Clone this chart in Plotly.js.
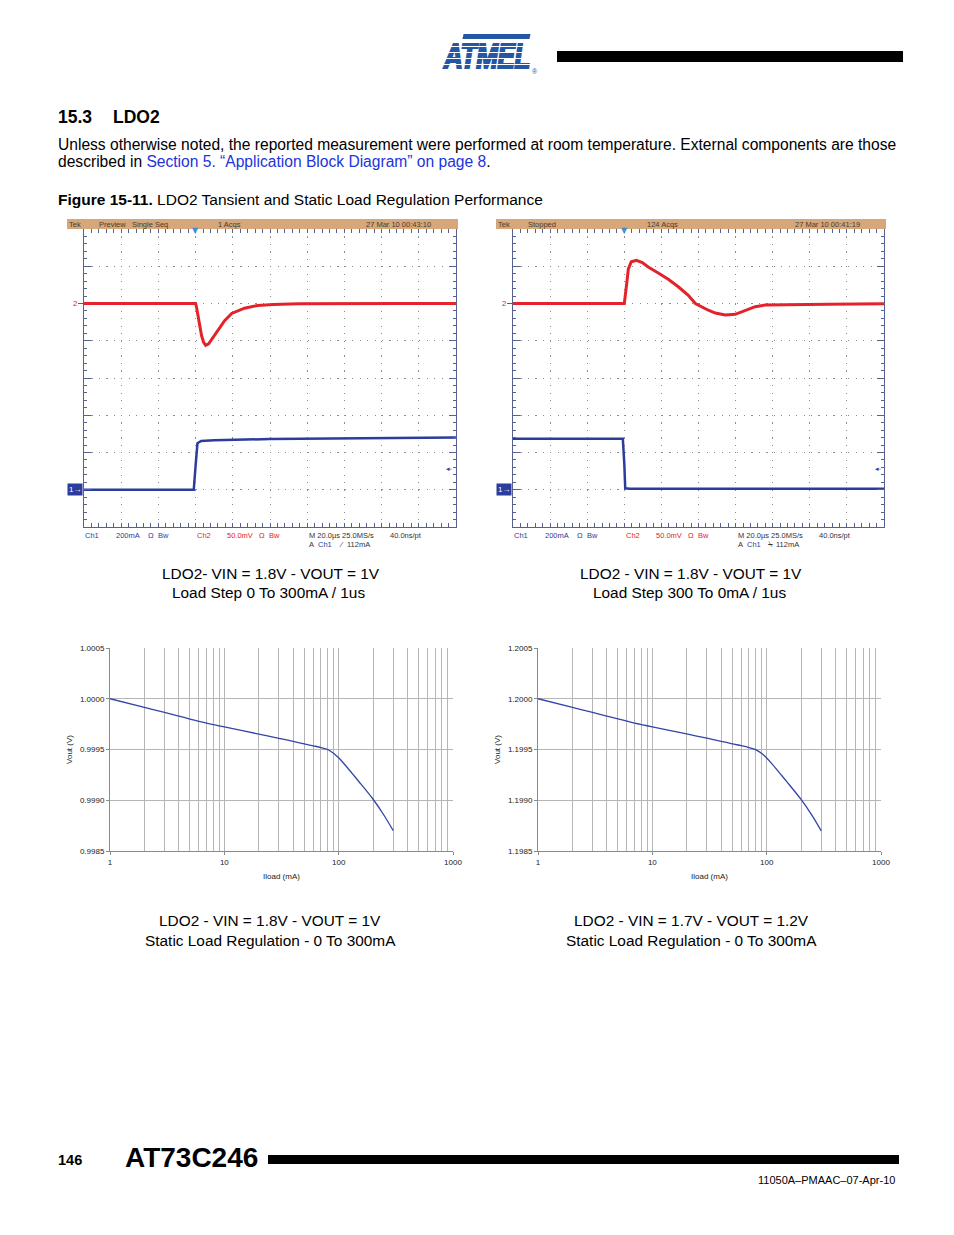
<!DOCTYPE html>
<html><head><meta charset="utf-8">
<script src="https://cdn.plot.ly/plotly-3.0.1.min.js"></script>
<style>
html,body{margin:0;padding:0;background:#fff;}
#wrap{position:relative;width:954px;height:1235px;overflow:hidden;}
#page{position:absolute;left:0;top:0;width:954px;height:1235px;}
#logo{position:absolute;left:443px;top:33px;width:100px;height:46px;}
</style>
</head><body>
<div id="wrap">
<div id="page"></div>
<div id="logo">
  <div style="position:absolute;left:20px;top:1px;width:67px;height:5px;background:#2456a6;transform:skewX(-12deg)"></div>
  <div style="position:absolute;left:1px;top:3px;font:italic bold 26px 'Liberation Sans Narrow','Liberation Sans',Arial,sans-serif;color:#2456a6;-webkit-text-stroke:1.6px #2456a6;transform:scale(1.0,1.32);transform-origin:0 0;letter-spacing:-0.3px;white-space:nowrap">ATMEL</div>
  <div style="position:absolute;left:0;top:8px;width:90px;height:34px;background:repeating-linear-gradient(to bottom,transparent 0px,transparent 5px,#fff 5px,#fff 6px)"></div>
  <div style="position:absolute;left:89px;top:35px;font:7px 'Liberation Sans',Arial,sans-serif;color:#2456a6">®</div>
</div>
</div>
<script>
// ---------------- DATA ----------------
// Scope 1: load step 0 -> 300 mA (time in µs, Ch2 in mV deviation, Ch1 in mA)
const s1Ch2Time = [-60, -30, 0, 0.5, 1.6, 3.2, 4.3, 5.4, 7.0, 9.7, 12.4, 15.6, 19.4, 23.1, 26.3, 33.3, 41.9, 55.4, 80, 110, 140];
const s1Ch2mV   = [0, 0, 0, -5, -23, -43, -52, -56, -54, -44, -34, -23, -13.4, -9.4, -6.3, -2.7, -1.3, -0.5, 0, 0, 0];
const s1Ch1Time = [-60, -30, -1, 0, 1, 3, 10, 40, 80, 140];
const s1Ch1mA   = [0, 2, 0, 130, 250, 262, 266, 272, 276, 280];
// Scope 2: load step 300 -> 0 mA
const s2Ch2Time = [-60, -30, 0, 1.08, 2.16, 3.77, 6.47, 9.70, 12.9, 18.3, 23.7, 29.1, 34.5, 38.3, 41.5, 45.3, 49.1, 54.4, 59.8, 65.2, 70.6, 76.0, 88.4, 110, 140];
const s2Ch2mV   = [0, 0, 0, 22, 46, 56, 58, 55, 49, 41, 32.5, 22.5, 11, 0, -4.3, -9, -12.8, -15.4, -14.5, -9, -4.3, -2, -1.5, -1, -0.5];
const s2Ch1Time = [-60, -20, -0.8, 0, 0.5, 3, 40, 140];
const s2Ch1mA   = [274, 276, 274, 140, 8, 6, 5, 5];
// Static load regulation (Iload mA, Vout V)
const iload = [1,2,3,4,5,6,7,8,9,10,20,30,40,50,60,70,80,90,100,110,130,150,200,250,300];
const vout1 = [1.000000,0.999914,0.999865,0.999829,0.999800,0.999778,0.999760,0.999745,0.999733,0.999722,
               0.999652,0.999610,0.999580,0.999555,0.999536,0.999519,0.999500,0.999464,0.999418,0.999367,
               0.999270,0.999185,0.999010,0.998850,0.998700];
const vout2 = [1.200000,1.199914,1.199866,1.199830,1.199802,1.199779,1.199761,1.199746,1.199734,1.199723,
               1.199653,1.199611,1.199581,1.199556,1.199537,1.199519,1.199499,1.199463,1.199417,1.199366,
               1.199268,1.199183,1.199008,1.198848,1.198698];
const vTicks1 = [0.9985, 0.9990, 0.9995, 1.0000, 1.0005];
const vTicks2 = [1.1985, 1.1990, 1.1995, 1.2000, 1.2005];

// ---------------- LAYOUT HELPERS ----------------
const W = 954, H = 1235;
const PAGE = 'Liberation Sans, Arial, Helvetica, sans-serif';
const SCOPE = 'Liberation Sans Narrow, Liberation Sans, Arial, sans-serif';
const RED = '#e3222a', BLUE = '#2c3c9c', FRAME = '#56618f';
const px = x => x / W, py = y => 1 - y / H;

function A(x, y, text, size, color, opts) {
  return Object.assign({xref:'paper', yref:'paper', x:px(x), y:py(y), text:text, showarrow:false,
    xanchor:'left', yanchor:'middle', borderpad:0, font:{family:PAGE, size:size, color:color||'#000'}}, opts||{});
}
function S(x, y, text, color, opts) { return A(x, y, text, 7.5, color||'#333', Object.assign({font:{family:SCOPE,size:7.5,color:color||'#333'}}, opts||{})); }

function scopeX(x0, x1, anchor) {
  return {domain:[px(x0), px(x1)], anchor:anchor, range:[-60,140], tick0:-60, dtick:20,
    showgrid:true, gridcolor:'#8c8c8c', gridwidth:1, griddash:'1.2px,6.24px',
    ticks:'inside', ticklen:4, tickcolor:FRAME, tickwidth:1, showline:true, linecolor:FRAME, linewidth:1,
    mirror:'allticks', showticklabels:false, zeroline:false, fixedrange:true,
    minor:{dtick:4, ticks:'inside', ticklen:3, tickcolor:FRAME, showgrid:false}};
}
function scopeY(anchor) {
  return {domain:[py(527), py(229)], anchor:anchor, range:[-300,100], tick0:-300, dtick:50,
    showgrid:true, gridcolor:'#8c8c8c', gridwidth:1, griddash:'1.2px,6.25px',
    ticks:'inside', ticklen:7, tickcolor:FRAME, tickwidth:1, showline:true, linecolor:FRAME, linewidth:1,
    mirror:'allticks', showticklabels:false, zeroline:false, fixedrange:true,
    minor:{dtick:10, ticks:'inside', ticklen:3, tickcolor:FRAME, showgrid:false}};
}
function hidY(over) {
  return {overlaying:over, range:[-200,1400], visible:false, fixedrange:true};
}
function logX(x0, x1, anchor) {
  return {domain:[px(x0), px(x1)], anchor:anchor, type:'log', range:[0,3], dtick:1,
    showgrid:true, gridcolor:'#b5b5b5', gridwidth:1,
    minor:{dtick:'D1', showgrid:true, gridcolor:'#b5b5b5', gridwidth:1, ticks:''},
    ticks:'outside', ticklen:3, tickcolor:'#8a8a8a', showline:true, linecolor:'#8a8a8a', linewidth:1,
    zeroline:false, fixedrange:true, tickfont:{family:PAGE, size:8, color:'#222'},
    title:{text:'Iload (mA)', font:{family:PAGE, size:8, color:'#222'}, standoff:7}};
}
function linY(anchor, vals) {
  return {domain:[py(851), py(648)], anchor:anchor, range:[vals[0], vals[vals.length-1]], tickvals:vals,
    tickformat:'.4f', showgrid:true, gridcolor:'#b5b5b5', gridwidth:1,
    ticks:'outside', ticklen:3, tickcolor:'#8a8a8a', showline:true, linecolor:'#8a8a8a', linewidth:1,
    zeroline:false, fixedrange:true, tickfont:{family:PAGE, size:8, color:'#222'},
    title:{text:'Vout (V)', font:{family:PAGE, size:8, color:'#222'}, standoff:6}};
}

// ---------------- TRACES ----------------
const traces = [
  {x:s1Ch2Time, y:s1Ch2mV, xaxis:'x', yaxis:'y', mode:'lines', line:{color:RED, width:3}, hoverinfo:'skip'},
  {x:s1Ch1Time, y:s1Ch1mA, xaxis:'x', yaxis:'y2', mode:'lines', line:{color:BLUE, width:2.5}, hoverinfo:'skip'},
  {x:s2Ch2Time, y:s2Ch2mV, xaxis:'x2', yaxis:'y3', mode:'lines', line:{color:RED, width:3}, hoverinfo:'skip'},
  {x:s2Ch1Time, y:s2Ch1mA, xaxis:'x2', yaxis:'y4', mode:'lines', line:{color:BLUE, width:2.5}, hoverinfo:'skip'},
  {x:iload, y:vout1, xaxis:'x3', yaxis:'y5', mode:'lines', line:{color:'#3344a8', width:1.3, shape:'spline', smoothing:0.8}, hoverinfo:'skip'},
  {x:iload, y:vout2, xaxis:'x4', yaxis:'y6', mode:'lines', line:{color:'#3344a8', width:1.3, shape:'spline', smoothing:0.8}, hoverinfo:'skip'}
];

// ---------------- SHAPES ----------------
const shapes = [
  {type:'rect', xref:'paper', yref:'paper', x0:px(557), x1:px(903), y0:py(62), y1:py(51), fillcolor:'#000', line:{width:0}},
  {type:'rect', xref:'paper', yref:'paper', x0:px(268), x1:px(899), y0:py(1164), y1:py(1155), fillcolor:'#000', line:{width:0}},
  {type:'rect', xref:'paper', yref:'paper', x0:px(67), x1:px(458), y0:py(229), y1:py(219), fillcolor:'#d5a77b', line:{width:0}},
  {type:'rect', xref:'paper', yref:'paper', x0:px(496), x1:px(886), y0:py(229), y1:py(219), fillcolor:'#d5a77b', line:{width:0}},
  {type:'line', xref:'paper', yref:'y', x0:px(78), x1:px(84), y0:0, y1:0, line:{color:RED, width:1}},
  {type:'line', xref:'paper', yref:'y3', x0:px(507), x1:px(513), y0:0, y1:0, line:{color:RED, width:1}}
];

// ---------------- ANNOTATIONS ----------------
function scopeTexts(off, axX, axY2, axY, status, acqs, acqX, date, slope) {
  const t = [];
  t.push(S(68+off, 224, 'Tek', '#4a3c2c'));
  status.forEach(s => t.push(S(s[0]+off, 224, s[1], '#4a3c2c')));
  t.push(S(acqX, 224, acqs, '#4a3c2c'));
  t.push(S(365+off, 224, date, '#4a3c2c'));
  t.push(S(84+off, 535, 'Ch1', BLUE));
  t.push(S(115+off, 535, '200mA', BLUE));
  t.push(S(147+off, 535, 'Ω', BLUE));
  t.push(S(157+off, 535, 'Bw', BLUE));
  t.push(S(196+off, 535, 'Ch2', RED));
  t.push(S(226+off, 535, '50.0mV', RED));
  t.push(S(258+off, 535, 'Ω', RED));
  t.push(S(268+off, 535, 'Bw', RED));
  t.push(S(308+off, 535, 'M 20.0µs 25.0MS/s', '#333'));
  t.push(S(389+off, 535, '40.0ns/pt', '#333'));
  t.push(S(308+off, 544, 'A', '#333'));
  t.push(S(317+off, 544, 'Ch1', BLUE));
  t.push(S(338+off, 544, slope, '#333'));
  t.push(S(346+off, 544, '112mA', '#333'));
  // channel markers
  t.push({xref:'paper', yref:axY, x:px(75+off), y:0, text:'2', showarrow:false, xanchor:'center', yanchor:'middle',
          font:{family:SCOPE, size:8, color:RED}});
  t.push({xref:'paper', yref:axY2, x:px(75+off), y:0, text:'1→', showarrow:false, xanchor:'center', yanchor:'middle',
          bgcolor:'#2c3c9c', borderpad:1, font:{family:SCOPE, size:8, color:'#fff'}});
  t.push({xref:'paper', yref:axY2, x:px(449+off), y:112, text:'◂-', showarrow:false, xanchor:'center', yanchor:'middle',
          font:{family:'DejaVu Sans', size:7, color:BLUE}});
  t.push({xref:axX, yref:'paper', x:0, y:py(231), text:'▼', showarrow:false, xanchor:'center', yanchor:'middle',
          font:{family:'DejaVu Sans', size:8, color:'#3d8ddb'}});
  return t;
}

let ann = [];
ann.push(A(57, 117, '<b>15.3</b>', 17.5));
ann.push(A(112, 117, '<b>LDO2</b>', 17.5));
ann.push(A(57, 144, 'Unless otherwise noted, the reported measurement were performed at room temperature. External components are those', 15.6));
ann.push(A(57, 162, 'described in <span style="color:#2233dd">Section 5. “Application Block Diagram” on page 8</span>.', 15.6));
ann.push(A(57, 199, '<b>Figure 15-11.</b> LDO2 Tansient and Static Load Regulation Performance', 15.5));

ann = ann.concat(scopeTexts(0, 'x', 'y2', 'y', [[98,'Preview'],[131,'Single Seq']], '1 Acqs', 217, '27 Mar 10 00:43:10', '⁄'));
ann = ann.concat(scopeTexts(429, 'x2', 'y4', 'y3', [[527-429,'Stopped']], '124 Acqs', 646, '27 Mar 10 00:41:19', '⍀'));

const CAP = 15.4;
ann.push(A(270.5, 573, 'LDO2- VIN = 1.8V - VOUT = 1V', CAP, '#000', {xanchor:'center'}));
ann.push(A(268.5, 592, 'Load Step 0 To 300mA / 1us', CAP, '#000', {xanchor:'center'}));
ann.push(A(691, 573, 'LDO2 - VIN = 1.8V - VOUT = 1V', CAP, '#000', {xanchor:'center'}));
ann.push(A(689, 592, 'Load Step 300 To 0mA / 1us', CAP, '#000', {xanchor:'center'}));
ann.push(A(270, 920, 'LDO2 - VIN = 1.8V - VOUT = 1V', CAP, '#000', {xanchor:'center'}));
ann.push(A(270.5, 940, 'Static Load Regulation - 0 To 300mA', CAP, '#000', {xanchor:'center'}));
ann.push(A(691.5, 920, 'LDO2 - VIN = 1.7V - VOUT = 1.2V', CAP, '#000', {xanchor:'center'}));
ann.push(A(691.5, 940, 'Static Load Regulation - 0 To 300mA', CAP, '#000', {xanchor:'center'}));

ann.push(A(57, 1160, '<b>146</b>', 14.5));
ann.push(A(124, 1157, '<b>AT73C246</b>', 28));
ann.push(A(896, 1180, '11050A–PMAAC–07-Apr-10', 11, '#000', {xanchor:'right'}));

const layout = {
  width:W, height:H, margin:{l:0, r:0, t:0, b:0}, paper_bgcolor:'#fff', plot_bgcolor:'rgba(0,0,0,0)',
  showlegend:false, shapes:shapes, annotations:ann,
  xaxis:scopeX(84, 456, 'y'), yaxis:scopeY('x'), yaxis2:Object.assign(hidY('y'), {anchor:'x'}),
  xaxis2:scopeX(513, 884, 'y3'), yaxis3:scopeY('x2'), yaxis4:Object.assign(hidY('y3'), {anchor:'x2'}),
  xaxis3:logX(110, 453, 'y5'), yaxis5:linY('x3', vTicks1),
  xaxis4:logX(538, 881, 'y6'), yaxis6:linY('x4', vTicks2)
};

Plotly.newPlot('page', traces, layout, {displayModeBar:false, staticPlot:true});
</script>
</body></html>
